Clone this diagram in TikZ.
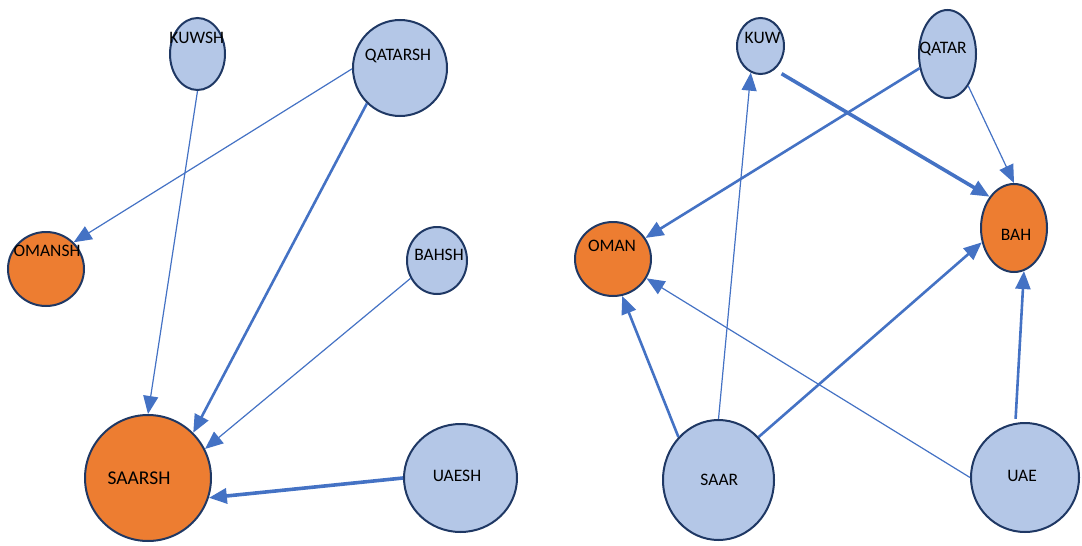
\documentclass[tikz,border=0pt]{standalone}
\usepackage{fontspec}
\setmainfont{Carlito}
\usetikzlibrary{arrows.meta,shapes.geometric}
\definecolor{nodeblue}{HTML}{B4C7E7}
\definecolor{nodeorange}{HTML}{ED7D31}
\definecolor{nodeborder}{HTML}{1F3864}
\definecolor{edgeblue}{HTML}{4472C4}
\tikzset{
  vtx/.style={ellipse, draw=nodeborder, line width=2pt, inner sep=0pt},
  bluev/.style={vtx, fill=nodeblue},
  orangev/.style={vtx, fill=nodeorange},
  lbl/.style={inner sep=0pt, font=\fontsize{17.5}{20}\selectfont, text=black},
  conn/.style={draw=edgeblue, -{Triangle[length=18pt,width=15pt]}},
  thinc/.style={conn, line width=1.2pt},
  medc/.style={conn, line width=2.6pt},
  thickc/.style={conn, line width=3.6pt}
}
\begin{document}
\begin{tikzpicture}[x=1pt,y=-1pt]
\useasboundingbox (0,0) rectangle (1082,546);
% left graph
\node[bluev, minimum width=55pt, minimum height=72pt] (kuwsh) at (197.5,54) {};
\node[bluev, minimum width=94pt, minimum height=96pt] (qatarsh) at (400,68) {};
\node[orangev, minimum width=76pt, minimum height=74pt] (omansh) at (46,269) {};
\node[bluev, minimum width=60pt, minimum height=67pt] (bahsh) at (437,260.5) {};
\node[orangev, minimum width=126pt, minimum height=126pt] (saarsh) at (148,478) {};
\node[bluev, minimum width=113pt, minimum height=108pt] (uaesh) at (460.5,478) {};
% right graph
\node[bluev, minimum width=47pt, minimum height=56pt] (kuw) at (760.5,46) {};
\node[bluev, minimum width=57pt, minimum height=88pt] (qatar) at (947.5,54) {};
\node[orangev, minimum width=76pt, minimum height=74pt] (oman) at (613,259) {};
\node[orangev, minimum width=66pt, minimum height=88pt] (bah) at (1014,228) {};
\node[bluev, minimum width=111pt, minimum height=120pt] (saar) at (718.5,480) {};
\node[bluev, minimum width=108pt, minimum height=109pt] (uae) at (1025,477.5) {};
% labels
\node[lbl] (kuwsh-t) at (196.7,37.5) {KUWSH};
\node[lbl] (qatarsh-t) at (398,55.5) {QATARSH};
\node[lbl] (omansh-t) at (47,251) {OMANSH};
\node[lbl] (bahsh-t) at (439,255) {BAHSH};
\node[lbl, font=\fontsize{19.5}{22}\selectfont] (saarsh-t) at (139,478) {SAARSH};
\node[lbl] (uaesh-t) at (457,475.5) {UAESH};
\node[lbl] (kuw-t) at (762.5,37.5) {KUW};
\node[lbl] (qatar-t) at (943,48.5) {QATAR};
\node[lbl] (oman-t) at (612,245.5) {OMAN};
\node[lbl] (bah-t) at (1016,235) {BAH};
\node[lbl] (saar-t) at (719.3,480.3) {SAAR};
\node[lbl] (uae-t) at (1022,476) {UAE};
% left connectors
\draw[thinc] (kuwsh.south) -- (saarsh.north);
\draw[thinc] (qatarsh.181) -- (omansh.44);
\draw[medc] (qatarsh.227) -- (saarsh.45);
\draw[thinc] (bahsh.214) -- (saarsh.27);
\draw[thickc] (uaesh.180) -- (saarsh.-18);
% right connectors
\draw[thickc, shorten <=8pt] (kuw.-59) -- (bah.128);
\draw[medc] (qatar.207) -- (oman.33);
\draw[thinc] (qatar.-57) -- (bah.north);
\draw[thinc] (saar.north) -- (kuw.250);
\draw[medc] (saar.133) -- (oman.-76);
\draw[medc] (saar.47) -- (bah.204);
\draw[thinc] (uae.180) -- (oman.-30);
\draw[medc, shorten <=4pt] (uae.100.5) -- (bah.-77.5);
\end{tikzpicture}
\end{document}
